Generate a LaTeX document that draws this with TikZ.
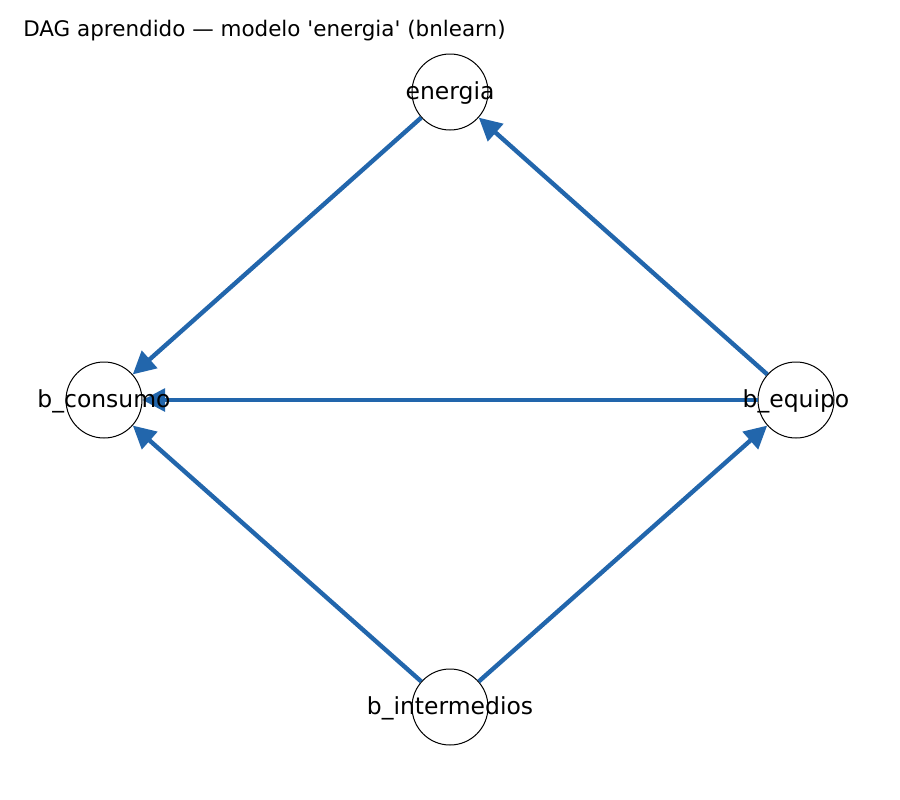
\documentclass[tikz,border=0pt]{standalone}
\usepackage{fontspec}
\setmainfont{DejaVu Sans}
\usetikzlibrary{arrows.meta}
\definecolor{edgeblue}{RGB}{34,102,172}
\newcommand\straightq{\XeTeXglyph\XeTeXglyphindex "quotesingle"\relax}
\begin{document}
\begin{tikzpicture}[x=0.75pt,y=-0.75pt,
  vnode/.style={circle,draw=black,line width=0.75pt,fill=white,minimum size=57pt,inner sep=0pt},
  vlabel/.style={font=\fontsize{17.6pt}{20pt}\selectfont,inner sep=0pt},
  edge/.style={draw=edgeblue,line width=3.3pt,-{Triangle[length=17pt,width=17pt]}}]
\useasboundingbox (0,0) rectangle (900,800);
\node[anchor=base west,font=\fontsize{16.1pt}{19pt}\selectfont,inner sep=0pt] (title) at (23,36) {DAG aprendido — modelo \straightq energia\straightq{} (bnlearn)};
\node[vnode] (en) at (450,92) {};
\node[vnode] (bc) at (104,400) {};
\node[vnode] (be) at (796,400) {};
\node[vnode] (bi) at (450,707) {};
\draw[edge] (en) -- (bc);
\draw[edge] (be) -- (en);
\draw[edge] (be) -- (bc);
\draw[edge] (bi) -- (bc);
\draw[edge] (bi) -- (be);
\node[vlabel] (len) at (450,93) {energia};
\node[vlabel] (lbc) at (104,401) {b\_consumo};
\node[vlabel] (lbe) at (796,401) {b\_equipo};
\node[vlabel] (lbi) at (450,708) {b\_intermedios};
\end{tikzpicture}
\end{document}
